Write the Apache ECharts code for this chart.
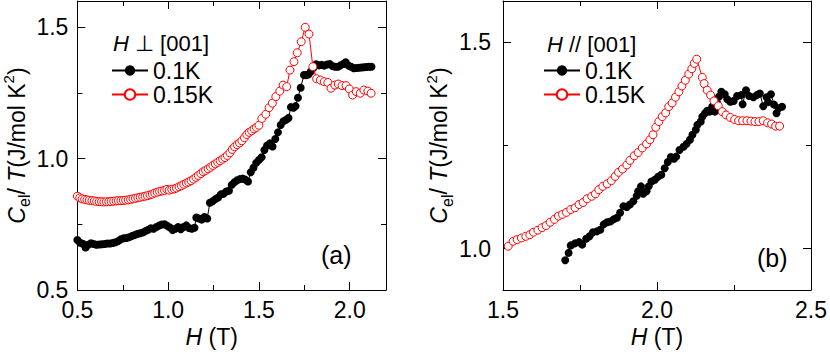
<!DOCTYPE html>
<html><head><meta charset="utf-8">
<script src="https://cdn.jsdelivr.net/npm/echarts@6/dist/echarts.min.js"></script>
<style>html,body{margin:0;padding:0;background:#fff}#c{width:830px;height:356px}</style>
</head><body><div id="c"></div>
<script>
// ---- data ----
const seriesNames = ['0.1K', '0.15K'];
const panelTitles = ['{i|H} \u22A5 [001]', '{i|H} // [001]'];
const panelTags = ['(a)', '(b)'];
const xTicksA = [0.5, 1.0, 1.5, 2.0], xMinorA = [0.75, 1.25, 1.75];
const yTicksA = [0.5, 1.0, 1.5], yMinorA = [0.75, 1.25];
const xTicksB = [1.5, 2.0, 2.5], xMinorB = [1.75, 2.25];
const yTicksB = [1.0, 1.5], yMinorB = [1.25];

// H perpendicular [001], 0.1 K
const perpBlack = [[0.500,0.690],[0.515,0.680],[0.530,0.676],[0.545,0.662],[0.560,0.672],[0.575,0.678],[0.590,0.675],[0.605,0.672],[0.620,0.673],[0.635,0.674],[0.650,0.675],[0.665,0.677],[0.680,0.677],[0.695,0.679],[0.710,0.682],[0.725,0.686],[0.740,0.693],[0.755,0.697],[0.770,0.698],[0.785,0.701],[0.800,0.705],[0.815,0.709],[0.830,0.713],[0.845,0.716],[0.860,0.719],[0.875,0.724],[0.890,0.729],[0.905,0.735],[0.920,0.733],[0.935,0.740],[0.950,0.745],[0.965,0.749],[0.980,0.750],[0.995,0.744],[1.010,0.738],[1.025,0.728],[1.040,0.733],[1.055,0.740],[1.070,0.731],[1.085,0.740],[1.100,0.746],[1.115,0.736],[1.130,0.733],[1.145,0.737],[1.155,0.776],[1.170,0.772],[1.185,0.768],[1.200,0.778],[1.215,0.772],[1.230,0.832],[1.245,0.838],[1.260,0.846],[1.275,0.852],[1.290,0.864],[1.305,0.866],[1.320,0.875],[1.335,0.878],[1.350,0.900],[1.365,0.910],[1.380,0.918],[1.395,0.922],[1.410,0.924],[1.425,0.920],[1.440,0.913],[1.455,0.948],[1.470,0.965],[1.485,0.984],[1.500,0.995],[1.515,1.005],[1.530,1.033],[1.545,1.050],[1.560,1.058],[1.575,1.046],[1.590,1.075],[1.605,1.100],[1.620,1.128],[1.635,1.142],[1.650,1.148],[1.663,1.155],[1.676,1.196],[1.690,1.194],[1.702,1.200],[1.715,1.232],[1.730,1.270],[1.748,1.318],[1.760,1.318],[1.772,1.320],[1.785,1.331],[1.800,1.345],[1.815,1.359],[1.830,1.355],[1.845,1.357],[1.860,1.354],[1.875,1.358],[1.890,1.360],[1.905,1.352],[1.920,1.350],[1.935,1.350],[1.950,1.355],[1.965,1.360],[1.978,1.367],[1.994,1.354],[2.008,1.350],[2.022,1.344],[2.036,1.345],[2.050,1.346],[2.064,1.347],[2.078,1.348],[2.092,1.349],[2.106,1.350],[2.120,1.350]];
// H perpendicular [001], 0.15 K
const perpRed = [[0.500,0.857],[0.513,0.851],[0.526,0.847],[0.540,0.845],[0.553,0.843],[0.566,0.841],[0.580,0.840],[0.593,0.839],[0.606,0.837],[0.620,0.836],[0.633,0.836],[0.646,0.835],[0.660,0.836],[0.673,0.836],[0.686,0.837],[0.700,0.838],[0.713,0.839],[0.726,0.840],[0.740,0.840],[0.753,0.841],[0.766,0.842],[0.780,0.843],[0.793,0.845],[0.806,0.847],[0.820,0.849],[0.833,0.851],[0.846,0.853],[0.860,0.855],[0.873,0.857],[0.886,0.859],[0.900,0.862],[0.913,0.865],[0.926,0.869],[0.940,0.872],[0.953,0.875],[0.966,0.877],[0.980,0.879],[0.993,0.883],[1.006,0.880],[1.020,0.883],[1.033,0.885],[1.046,0.888],[1.060,0.893],[1.073,0.897],[1.086,0.902],[1.100,0.907],[1.113,0.911],[1.126,0.916],[1.140,0.922],[1.153,0.929],[1.166,0.936],[1.180,0.943],[1.193,0.950],[1.206,0.955],[1.220,0.961],[1.233,0.967],[1.246,0.974],[1.260,0.980],[1.273,0.986],[1.286,0.992],[1.300,0.998],[1.313,1.004],[1.326,1.012],[1.340,1.022],[1.353,1.035],[1.366,1.045],[1.380,1.053],[1.393,1.060],[1.406,1.068],[1.420,1.080],[1.433,1.092],[1.446,1.100],[1.460,1.106],[1.473,1.113],[1.486,1.119],[1.500,1.127],[1.516,1.153],[1.538,1.169],[1.556,1.194],[1.574,1.211],[1.593,1.236],[1.615,1.257],[1.633,1.280],[1.653,1.274],[1.671,1.337],[1.693,1.369],[1.711,1.403],[1.733,1.445],[1.755,1.500],[1.776,1.474],[1.797,1.350],[1.818,1.304],[1.839,1.299],[1.860,1.293],[1.880,1.290],[1.897,1.268],[1.918,1.280],[1.937,1.284],[1.958,1.278],[1.980,1.278],[1.998,1.265],[2.016,1.242],[2.036,1.255],[2.058,1.249],[2.078,1.261],[2.100,1.257],[2.118,1.249]];
// H parallel [001], 0.1 K
const parBlack = [[1.702,0.972],[1.713,0.990],[1.720,1.008],[1.734,1.013],[1.747,1.016],[1.757,1.010],[1.770,1.024],[1.781,1.030],[1.792,1.040],[1.805,1.042],[1.816,1.046],[1.827,1.059],[1.838,1.064],[1.848,1.066],[1.859,1.071],[1.870,1.075],[1.880,1.087],[1.891,1.103],[1.902,1.101],[1.912,1.107],[1.923,1.115],[1.934,1.128],[1.939,1.139],[1.948,1.151],[1.955,1.133],[1.966,1.139],[1.973,1.151],[1.982,1.163],[1.993,1.167],[2.003,1.174],[2.014,1.179],[2.025,1.195],[2.035,1.210],[2.045,1.222],[2.055,1.218],[2.062,1.223],[2.073,1.239],[2.086,1.247],[2.096,1.254],[2.107,1.264],[2.115,1.276],[2.126,1.288],[2.131,1.300],[2.142,1.308],[2.147,1.320],[2.156,1.328],[2.163,1.334],[2.171,1.332],[2.179,1.344],[2.188,1.332],[2.196,1.352],[2.201,1.368],[2.209,1.380],[2.220,1.374],[2.228,1.362],[2.238,1.356],[2.249,1.358],[2.260,1.370],[2.273,1.372],[2.278,1.350],[2.289,1.384],[2.299,1.370],[2.313,1.367],[2.324,1.372],[2.334,1.376],[2.345,1.345],[2.356,1.367],[2.361,1.355],[2.370,1.374],[2.380,1.349],[2.388,1.328],[2.395,1.340],[2.406,1.344]];
// H parallel [001], 0.15 K
const parRed = [[1.517,1.006],[1.533,1.018],[1.546,1.022],[1.560,1.026],[1.574,1.030],[1.587,1.034],[1.599,1.040],[1.613,1.045],[1.627,1.051],[1.640,1.056],[1.653,1.064],[1.667,1.071],[1.680,1.079],[1.693,1.083],[1.706,1.088],[1.720,1.095],[1.734,1.099],[1.747,1.107],[1.760,1.112],[1.773,1.121],[1.788,1.127],[1.800,1.133],[1.811,1.143],[1.824,1.151],[1.838,1.157],[1.852,1.165],[1.864,1.175],[1.875,1.185],[1.888,1.193],[1.902,1.203],[1.912,1.214],[1.926,1.225],[1.939,1.233],[1.952,1.244],[1.966,1.254],[1.977,1.264],[1.987,1.276],[1.996,1.294],[2.006,1.308],[2.017,1.320],[2.028,1.329],[2.038,1.344],[2.049,1.353],[2.060,1.367],[2.071,1.380],[2.081,1.394],[2.092,1.408],[2.103,1.423],[2.113,1.436],[2.121,1.449],[2.129,1.459],[2.147,1.415],[2.153,1.400],[2.163,1.384],[2.174,1.372],[2.185,1.358],[2.199,1.346],[2.212,1.332],[2.224,1.324],[2.238,1.318],[2.252,1.313],[2.265,1.310],[2.278,1.310],[2.292,1.310],[2.305,1.309],[2.318,1.308],[2.331,1.308],[2.345,1.310],[2.359,1.305],[2.372,1.302],[2.385,1.297],[2.398,1.297]];

// ---- chart ----
const FONT = "'Liberation Sans', Arial, Helvetica, sans-serif";
const FS = 23;
const BLACK = '#000', RED = '#ff0000';
const xAxes = [], yAxes = [];
function mk(list, grid, pos, min, max, ticks, len, showLine, extra) {
  list.push(Object.assign({
    type: 'value', gridIndex: grid, position: pos, min: min, max: max,
    axisLine: {show: showLine, onZero: false, lineStyle: {color: BLACK, width: 1}},
    axisTick: {show: true, inside: true, length: len, customValues: ticks, lineStyle: {color: BLACK, width: 1}},
    axisLabel: {show: false},
    splitLine: {show: false}, minorTick: {show: false}, silent: true
  }, extra || {}));
  return list.length - 1;
}
function lbl(ticks, margin) {
  return {show: true, customValues: ticks, formatter: v => v.toFixed(1), margin: margin,
          color: BLACK, fontSize: FS, fontFamily: FONT};
}
const tStyle = (sz, extra) => Object.assign({fontSize: sz, fontFamily: FONT, color: BLACK, fontWeight: 'normal'}, extra || {});
const yNameRich = {
  i: tStyle(FS, {fontStyle: 'italic'}),
  n: tStyle(FS),
  s: tStyle(16, {padding: [16, 0, 0, 0]}),
  p: tStyle(15, {padding: [0, 0, 16, 0]})
};
const yName = '{i|C}{s|el}{n|/ }{i|T}{n|(J/mol K}{p|2}{n|)}';
const xName = '{i|H}{n| (T)}';

const panels = [
  {grid: {left: 76, top: 1, width: 310, height: 289}, xr: [0.5, 2.2], yr: [0.5, 1.6],
   xt: xTicksA, xm: xMinorA, yt: yTicksA, ym: yMinorA, yGap: 43, yMargin: 9, xPad: [0, 40, 0, 0],
   black: perpBlack, red: perpRed},
  {grid: {left: 503, top: 1, width: 312, height: 289}, xr: [1.5, 2.5], yr: [0.9, 1.6],
   xt: xTicksB, xm: xMinorB, yt: yTicksB, ym: yMinorB, yGap: 47, yMargin: 12, xPad: [0, 0, 0, 0],
   black: parBlack, red: parRed}
];
const grids = [], series = [];
panels.forEach((p, g) => {
  grids.push(p.grid);
  const xi = mk(xAxes, g, 'bottom', p.xr[0], p.xr[1], p.xt, 8, true, {
    axisLabel: lbl(p.xt, 8),
    name: xName, nameLocation: 'middle', nameGap: 35,
    nameTextStyle: Object.assign(tStyle(FS), {padding: p.xPad, rich: {i: tStyle(FS, {fontStyle: 'italic'}), n: tStyle(FS)}})
  });
  mk(xAxes, g, 'bottom', p.xr[0], p.xr[1], p.xm, 5, false);
  mk(xAxes, g, 'top', p.xr[0], p.xr[1], p.xt, 8, true);
  mk(xAxes, g, 'top', p.xr[0], p.xr[1], p.xm, 5, false);
  const yi = mk(yAxes, g, 'left', p.yr[0], p.yr[1], p.yt, 8, true, {
    axisLabel: lbl(p.yt, p.yMargin),
    name: yName, nameLocation: 'middle', nameGap: p.yGap, nameRotate: 90,
    nameTextStyle: Object.assign(tStyle(FS), {rich: yNameRich})
  });
  mk(yAxes, g, 'left', p.yr[0], p.yr[1], p.ym, 5, false);
  mk(yAxes, g, 'right', p.yr[0], p.yr[1], p.yt, 8, true);
  mk(yAxes, g, 'right', p.yr[0], p.yr[1], p.ym, 5, false);
  series.push({
    type: 'line', name: seriesNames[0], xAxisIndex: xi, yAxisIndex: yi, data: p.black,
    symbol: 'circle', symbolSize: 8, itemStyle: {color: BLACK},
    lineStyle: {color: BLACK, width: 1}, z: 2, silent: true, animation: false
  });
  series.push({
    type: 'line', name: seriesNames[1], xAxisIndex: xi, yAxisIndex: yi, data: p.red,
    symbol: 'circle', symbolSize: 8, itemStyle: {color: '#fff', borderColor: RED, borderWidth: 1},
    lineStyle: {color: RED, width: 1}, z: 3, silent: true, animation: false
  });
});

const legendBase = {
  data: seriesNames, orient: 'vertical', top: 59, itemWidth: 36, itemHeight: 13, itemGap: 1,
  padding: 0, selectedMode: false, textStyle: tStyle(FS)
};
const option = {
  animation: false,
  backgroundColor: '#fff',
  grid: grids, xAxis: xAxes, yAxis: yAxes, series: series,
  legend: [Object.assign({left: 111}, legendBase), Object.assign({left: 543}, legendBase)],
  title: [
    {text: panelTitles[0], left: 113, top: 32, padding: 0,
     textStyle: Object.assign(tStyle(FS - 1), {rich: {i: tStyle(FS - 1, {fontStyle: 'italic'})}})},
    {text: panelTitles[1], left: 547, top: 33, padding: 0,
     textStyle: Object.assign(tStyle(FS - 1), {rich: {i: tStyle(FS - 1, {fontStyle: 'italic'})}})},
    {text: panelTags[0], left: 321, top: 242, padding: 0, textStyle: tStyle(25)},
    {text: panelTags[1], left: 757, top: 245, padding: 0, textStyle: tStyle(25)}
  ]
};
const chart = echarts.init(document.getElementById('c'), null, {renderer: 'svg'});
chart.setOption(option);
</script>
</body></html>
